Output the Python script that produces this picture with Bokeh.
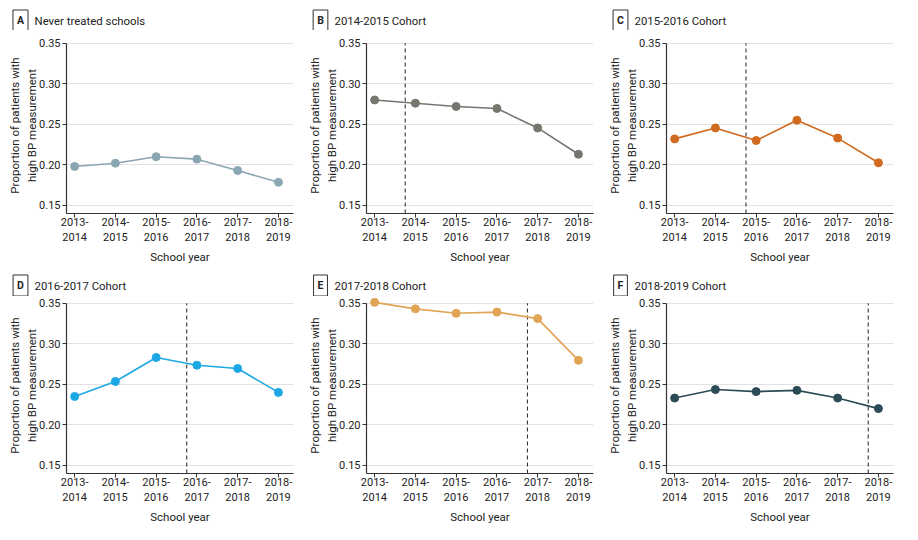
from bokeh.plotting import figure
from bokeh.models import Range1d, FixedTicker, Label, NumeralTickFormatter
from bokeh.layouts import column, row
from bokeh.embed import file_html
from bokeh.resources import INLINE

years = ["2013-\n2014", "2014-\n2015", "2015-\n2016", "2016-\n2017", "2017-\n2018", "2018-\n2019"]
x_idx = [0, 1, 2, 3, 4, 5]

letters = ["A", "B", "C", "D", "E", "F"]
titles = ["Never treated schools", "2014-2015 Cohort", "2015-2016 Cohort",
          "2016-2017 Cohort", "2017-2018 Cohort", "2018-2019 Cohort"]

never_treated = [0.198, 0.202, 0.210, 0.207, 0.193, 0.1785]
cohort_2014 = [0.280, 0.276, 0.272, 0.2695, 0.2455, 0.213]
cohort_2015 = [0.232, 0.2455, 0.230, 0.255, 0.233, 0.2025]
cohort_2016 = [0.235, 0.2535, 0.283, 0.2735, 0.2695, 0.240]
cohort_2017 = [0.351, 0.343, 0.3375, 0.339, 0.331, 0.2795]
cohort_2018 = [0.233, 0.2435, 0.241, 0.2425, 0.233, 0.220]
series = [never_treated, cohort_2014, cohort_2015, cohort_2016, cohort_2017, cohort_2018]

# position of the dashed intervention line (between school years), None = no line
intervention_x = [None, 0.75, 1.75, 2.75, 3.75, 4.75]

colors = ["#8aa6b2", "#76756e", "#cf6a1e", "#1ca8e4", "#e1a454", "#2d4b56"]

y_ticks = [0.15, 0.20, 0.25, 0.30, 0.35]

FONT = "Roboto"
DARK = "#222222"
AXIS = "#333333"

PANEL_W = 300
FRAME_W, FRAME_H = 227, 176
BORDER_L, BORDER_R, BORDER_B = 66, 7, 55


def make_header(i, h, cy):
    hp = figure(frame_width=PANEL_W, frame_height=h, output_backend="svg",
                toolbar_location=None, x_axis_type=None, y_axis_type=None,
                x_range=Range1d(0, PANEL_W), y_range=Range1d(0, h),
                min_border=0)
    hp.outline_line_color = None
    hp.grid.visible = False
    hp.add_layout(Label(x=20, y=h - cy, text=letters[i], text_font=FONT,
                        text_font_size="10.5px", text_font_style="bold",
                        text_color=DARK, text_align="center", text_baseline="middle",
                        border_line_color=AXIS, border_line_width=1,
                        background_fill_color="white", padding=4))
    hp.add_layout(Label(x=34, y=h - cy, text=titles[i], text_font=FONT,
                        text_font_size="11.4px", text_color=DARK,
                        text_align="left", text_baseline="middle"))
    return hp


def make_panel(i, border_top):
    p = figure(frame_width=FRAME_W, frame_height=FRAME_H, output_backend="svg",
               toolbar_location=None,
               x_range=Range1d(-0.2, 5.37), y_range=Range1d(0.14, 0.357),
               min_border_left=BORDER_L, min_border_right=BORDER_R,
               min_border_top=border_top, min_border_bottom=BORDER_B)
    p.outline_line_color = None
    p.xgrid.visible = False
    p.ygrid.ticker = FixedTicker(ticks=y_ticks)
    p.ygrid.grid_line_color = "#e2e2e2"

    xa = p.xaxis[0]
    xa.ticker = FixedTicker(ticks=x_idx)
    xa.major_label_overrides = {k: v for k, v in zip(x_idx, years)}
    xa.axis_label = "School year"
    ya = p.yaxis[0]
    ya.ticker = FixedTicker(ticks=y_ticks)
    ya.formatter = NumeralTickFormatter(format="0.00")
    ya.axis_label = "Proportion of patients with\nhigh BP measurement"
    ya.bounds = (0.14, 0.35)
    for ax in (xa, ya):
        ax.axis_line_color = AXIS
        ax.axis_line_width = 1.2
        ax.major_tick_line_color = AXIS
        ax.major_tick_in = 0
        ax.major_tick_out = 4
        ax.minor_tick_line_color = None
        ax.major_label_text_font = FONT
        ax.major_label_text_font_size = "11px"
        ax.major_label_text_color = DARK
        ax.axis_label_text_font = FONT
        ax.axis_label_text_font_size = "11.5px"
        ax.axis_label_text_font_style = "normal"
        ax.axis_label_text_color = DARK
    xa.major_label_standoff = -2
    xa.axis_label_standoff = 3
    ya.major_label_standoff = 2
    ya.axis_label_standoff = -3

    if intervention_x[i] is not None:
        p.segment(x0=[intervention_x[i]], y0=[0.14], x1=[intervention_x[i]], y1=[0.35],
                  line_color=AXIS, line_width=1.1, line_dash="4 3")

    p.line(x_idx, series[i], line_color=colors[i], line_width=1.6)
    p.scatter(x_idx, series[i], size=8, fill_color=colors[i], line_color=colors[i])
    return p


headers1 = [make_header(i, 30, 20) for i in range(3)]
plots1 = [make_panel(i, 7) for i in range(3)]
headers2 = [make_header(i, 28, 17) for i in range(3, 6)]
plots2 = [make_panel(i, 1) for i in range(3, 6)]

layout = column(row(*headers1, spacing=0), row(*plots1, spacing=0),
                row(*headers2, spacing=0), row(*plots2, spacing=0), spacing=0)

open("out.html", "w").write(file_html(layout, INLINE))
